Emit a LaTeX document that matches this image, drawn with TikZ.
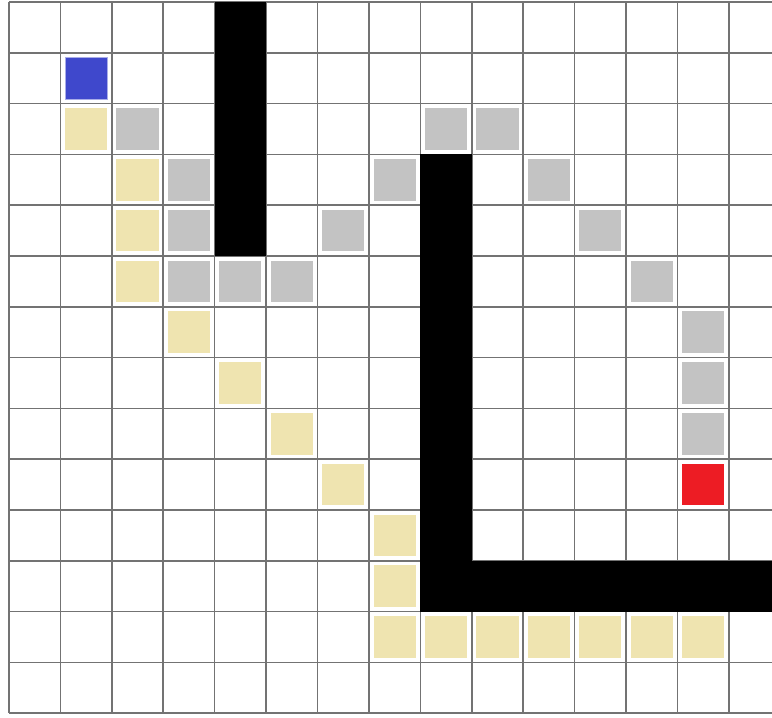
\documentclass[tikz,border=0pt]{standalone}
\definecolor{startblue}{RGB}{63,72,204}
\definecolor{goalred}{RGB}{237,28,36}
\definecolor{pathyellow}{RGB}{239,228,176}
\definecolor{seengray}{RGB}{195,195,195}
\tikzset{
  gridline/.style={draw=black!55,line width=0.9pt},
  wall/.style={fill=black},
  pathcell/.style={fill=pathyellow},
  seencell/.style={fill=seengray},
  startcell/.style={fill=startblue,draw=startblue!45!white,line width=0.5pt},
  goalcell/.style={fill=goalred}
}
\begin{document}
\begin{tikzpicture}[x=1cm,y=0.988cm]
\useasboundingbox[fill=white] (-0.175,0.04) rectangle (14.84,-14.09);
% grid
\foreach \r in {0,...,14}
  \draw[gridline] (0,-\r)--(14.84,-\r);
\foreach \c in {0,...,14}
  \draw[gridline] (\c,0)--(\c,-14);
% walls
\fill[wall] (4,0) rectangle (5,-5);
\fill[wall] (8,-3) rectangle (9,-12);
\fill[wall] (8,-11) rectangle (14.84,-12);
% explored cells
\foreach \c/\r in {2/2,3/3,3/4,3/5,4/5,5/5,6/4,7/3,8/2,9/2,10/3,11/4,12/5,13/6,13/7,13/8}
  \fill[seencell] (\c+0.09,-\r-0.09) rectangle (\c+0.91,-\r-0.91);
% path cells
\foreach \c/\r in {1/2,2/3,2/4,2/5,3/6,4/7,5/8,6/9,7/10,7/11,7/12,8/12,9/12,10/12,11/12,12/12,13/12}
  \fill[pathcell] (\c+0.09,-\r-0.09) rectangle (\c+0.91,-\r-0.91);
% start and goal
\filldraw[startcell] (1.09,-1.09) rectangle (1.91,-1.91);
\fill[goalcell] (13.09,-9.09) rectangle (13.91,-9.91);
\end{tikzpicture}
\end{document}
